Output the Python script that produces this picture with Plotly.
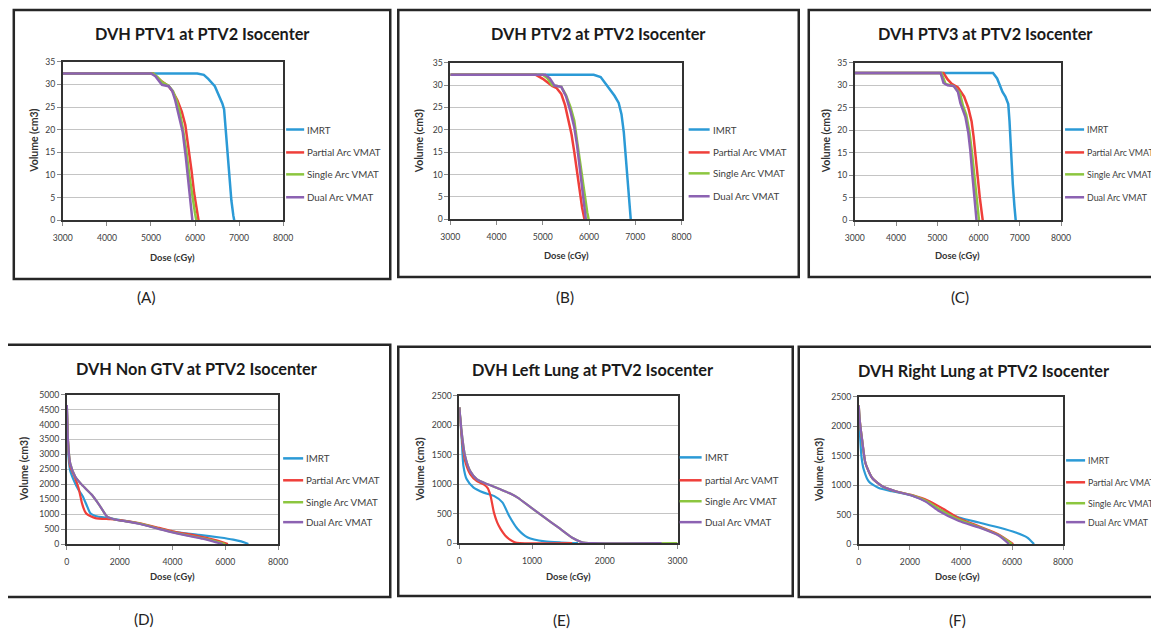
import plotly.graph_objects as go

W, H = 1190, 633
# empirical placement correction (observed = off + scale * figure coordinate)
SX, OXP = 0.982, 17.2
SY, OYP = 0.986, 13.1
FS = 1.0 / SX
FONT = "Lato"

SERIES = ["IMRT", "Partial Arc VMAT", "Single Arc VMAT", "Dual Arc VMAT"]
SERIES_E = ["IMRT", "partial Arc VAMT", "Single Arc VMAT", "Dual Arc VMAT"]
COLORS = ["#2b9ad6", "#ef3f3a", "#8cc63f", "#8c62b2"]

TITLES = ["DVH PTV1 at PTV2 Isocenter", "DVH PTV2 at PTV2 Isocenter", "DVH PTV3 at PTV2 Isocenter",
          "DVH Non GTV at PTV2 Isocenter", "DVH Left Lung at PTV2 Isocenter", "DVH Right Lung at PTV2 Isocenter"]
LABELS = ["(A)", "(B)", "(C)", "(D)", "(E)", "(F)"]
X_TITLE = "Dose (cGy)"
Y_TITLE = "Volume (cm3)"

# ---------------- Panel A: PTV1 ----------------
a_imrt_x = [3000, 6050, 6200, 6300, 6450, 6550, 6620, 6660, 6690, 6730, 6780, 6825, 6870, 6890]
a_imrt_y = [32.4, 32.4, 32.1, 31.2, 29.6, 27.5, 25.8, 24.5, 20.5, 15.5, 9.5, 4.4, 1.0, 0]
a_part_x = [3000, 5050, 5150, 5250, 5400, 5500, 5600, 5700, 5780, 5850, 5920, 5980, 6040, 6080]
a_part_y = [32.4, 32.4, 31.5, 30.6, 29.6, 28.3, 26.5, 24.0, 21.0, 16.5, 11.0, 6.0, 2.0, 0]
a_sing_x = [3000, 5050, 5150, 5250, 5400, 5500, 5580, 5650, 5720, 5800, 5870, 5940, 6000, 6030]
a_sing_y = [32.4, 32.4, 31.6, 30.5, 29.7, 28.5, 26.5, 24.0, 20.5, 15.5, 10.0, 5.0, 1.5, 0]
a_dual_x = [3000, 5000, 5100, 5200, 5250, 5400, 5480, 5550, 5600, 5650, 5720, 5790, 5850, 5900, 5940]
a_dual_y = [32.4, 32.4, 31.8, 30.5, 29.9, 29.6, 28.6, 26.5, 24.5, 23.0, 19.5, 14.0, 8.5, 3.5, 0]

# ---------------- Panel B: PTV2 ----------------
b_imrt_x = [3000, 6100, 6250, 6350, 6450, 6550, 6640, 6700, 6750, 6790, 6820, 6850, 6880, 6900]
b_imrt_y = [32.3, 32.3, 31.8, 30.4, 29.0, 27.6, 26.0, 23.5, 19.5, 14.0, 9.0, 5.0, 1.5, 0]
b_part_x = [3000, 4850, 5000, 5100, 5200, 5300, 5400, 5480, 5550, 5620, 5680, 5740, 5800, 5850, 5900]
b_part_y = [32.3, 32.3, 31.4, 30.6, 29.8, 29.3, 28.0, 25.5, 22.0, 19.0, 15.0, 10.5, 6.0, 2.5, 0]
b_sing_x = [3000, 5000, 5100, 5200, 5400, 5500, 5600, 5680, 5740, 5800, 5860, 5920, 5960, 5990]
b_sing_y = [32.3, 32.3, 31.5, 30.0, 29.6, 27.8, 25.0, 22.0, 17.5, 13.0, 8.5, 4.0, 1.5, 0]
b_dual_x = [3000, 5050, 5150, 5250, 5400, 5500, 5600, 5680, 5740, 5790, 5840, 5880, 5910, 5930]
b_dual_y = [32.3, 32.3, 31.5, 29.9, 29.6, 27.5, 24.0, 20.5, 16.5, 12.0, 7.5, 3.5, 1.0, 0]

# ---------------- Panel C: PTV3 ----------------
c_imrt_x = [3000, 6350, 6450, 6530, 6580, 6650, 6720, 6750, 6770, 6800, 6830, 6870, 6900]
c_imrt_y = [32.7, 32.7, 31.5, 29.5, 28.5, 27.5, 25.8, 22.0, 18.0, 13.0, 8.0, 3.0, 0]
c_part_x = [3000, 5150, 5250, 5350, 5500, 5650, 5750, 5830, 5880, 5930, 5980, 6030, 6070, 6100]
c_part_y = [32.7, 32.7, 31.3, 30.3, 29.5, 27.5, 25.0, 22.0, 18.5, 14.5, 9.5, 5.0, 1.5, 0]
c_sing_x = [3000, 5100, 5200, 5400, 5550, 5620, 5700, 5780, 5840, 5900, 5950, 5990, 6010]
c_sing_y = [32.7, 32.7, 30.3, 29.8, 28.2, 25.5, 23.5, 19.5, 15.0, 9.5, 5.0, 1.5, 0]
c_dual_x = [3000, 5080, 5150, 5250, 5400, 5500, 5560, 5620, 5680, 5750, 5800, 5850, 5900, 5950]
c_dual_y = [32.7, 32.7, 30.5, 30.0, 29.8, 28.5, 26.0, 24.5, 23.0, 19.5, 15.5, 10.0, 4.5, 0]

# ---------------- Panel D: Non GTV ----------------
d_imrt_x = [0, 30, 63, 120, 254, 444, 600, 750, 889, 1079, 1650, 2730, 4000, 5000, 5800, 6300, 6600, 6800, 6870]
d_imrt_y = [4650, 3800, 2930, 2480, 2150, 1810, 1600, 1300, 1030, 940, 860, 690, 420, 310, 220, 150, 90, 30, 0]
d_part_x = [0, 40, 127, 317, 444, 571, 680, 762, 900, 1079, 1650, 2000, 2730, 3500, 4000, 5000, 5700, 6100]
d_part_y = [4650, 3500, 2600, 2200, 1870, 1370, 1100, 1000, 930, 870, 830, 800, 700, 540, 430, 260, 120, 0]
d_sing_x = [0, 40, 127, 317, 571, 952, 1250, 1524, 1778, 2000, 2730, 3500, 4000, 4700, 5150, 5600, 6000]
d_sing_y = [4650, 3500, 2700, 2260, 1980, 1640, 1280, 920, 830, 790, 690, 510, 400, 270, 190, 100, 0]
d_dual_x = [0, 40, 127, 317, 571, 952, 1250, 1524, 1778, 2000, 2730, 3500, 4000, 4700, 5143, 5500, 5900]
d_dual_y = [4650, 3500, 2700, 2260, 1980, 1640, 1280, 920, 830, 790, 680, 500, 390, 260, 180, 100, 0]

# ---------------- Panel E: Left Lung ----------------
e_imrt_x = [0, 33, 56, 102, 196, 335, 475, 592, 685, 801, 941, 1174, 1400, 1630]
e_imrt_y = [2300, 1760, 1310, 1080, 940, 855, 800, 690, 460, 240, 95, 28, 10, 0]
e_part_x = [0, 33, 79, 149, 242, 340, 390, 429, 475, 520, 568, 630, 685, 760, 830, 1550]
e_part_y = [2300, 1810, 1390, 1170, 1050, 990, 930, 800, 520, 350, 236, 130, 68, 15, 0, 0]
e_sing_x = [0, 33, 79, 149, 242, 382, 568, 700, 801, 987, 1174, 1360, 1546, 1686, 1826, 3000]
e_sing_y = [2300, 1870, 1475, 1220, 1080, 1000, 910, 840, 770, 600, 430, 265, 95, 15, 0, 0]
e_dual_x = [0, 33, 79, 149, 242, 382, 568, 700, 801, 987, 1174, 1360, 1546, 1686, 1826, 2780]
e_dual_y = [2300, 1870, 1475, 1220, 1080, 1000, 910, 840, 770, 600, 430, 265, 95, 15, 0, 0]

# ---------------- Panel F: Right Lung ----------------
f_imrt_x = [0, 26, 105, 196, 392, 784, 1307, 2092, 2614, 3137, 3922, 4706, 5490, 6144, 6601, 6863]
f_imrt_y = [2350, 2040, 1480, 1260, 1060, 950, 895, 820, 730, 590, 450, 365, 280, 195, 110, 0]
f_part_x = [0, 26, 131, 261, 523, 915, 1438, 2092, 2700, 3300, 3922, 4706, 5490, 6050]
f_part_y = [2350, 2150, 1760, 1370, 1120, 980, 895, 830, 740, 600, 440, 300, 160, 0]
f_sing_x = [0, 26, 131, 261, 523, 915, 1438, 2092, 2650, 3200, 3922, 4706, 5490, 6000]
f_sing_y = [2350, 2150, 1760, 1370, 1120, 980, 895, 825, 730, 580, 415, 290, 150, 0]
f_dual_x = [0, 26, 131, 261, 523, 915, 1438, 2092, 2614, 3137, 3922, 4706, 5490, 5882]
f_dual_y = [2350, 2150, 1760, 1370, 1120, 980, 895, 820, 720, 560, 390, 280, 140, 0]

PANEL_DATA = [
    [(a_imrt_x, a_imrt_y), (a_part_x, a_part_y), (a_sing_x, a_sing_y), (a_dual_x, a_dual_y)],
    [(b_imrt_x, b_imrt_y), (b_part_x, b_part_y), (b_sing_x, b_sing_y), (b_dual_x, b_dual_y)],
    [(c_imrt_x, c_imrt_y), (c_part_x, c_part_y), (c_sing_x, c_sing_y), (c_dual_x, c_dual_y)],
    [(d_imrt_x, d_imrt_y), (d_part_x, d_part_y), (d_sing_x, d_sing_y), (d_dual_x, d_dual_y)],
    [(e_imrt_x, e_imrt_y), (e_part_x, e_part_y), (e_sing_x, e_sing_y), (e_dual_x, e_dual_y)],
    [(f_imrt_x, f_imrt_y), (f_part_x, f_part_y), (f_sing_x, f_sing_y), (f_dual_x, f_dual_y)],
]
X_RANGES = [[3000, 8000], [3000, 8000], [3000, 8000], [0, 8000], [0, 3000], [0, 8000]]
X_DTICK = [1000, 1000, 1000, 2000, 1000, 2000]
Y_RANGES = [[0, 35], [0, 35], [0, 35], [0, 5000], [0, 2500], [0, 2500]]
Y_DTICK = [5, 5, 5, 500, 500, 500]

# ---------------- layout geometry (target picture pixels) ----------------
BOXES = [(13, 9, 389, 279), (397, 9, 797, 277), (807, 9, 1185, 277),
         (4, 345, 389, 598), (397, 347, 791, 597), (797, 347, 1185, 598)]
PLOTS = [(62, 61, 282, 220), (449, 62, 680, 219), (853, 62, 1059, 220),
         (66, 395, 277, 545), (458, 396, 676, 544), (857, 397, 1061, 545)]
TITLE_POS = [(201, 33), (597, 33), (984, 33), (196, 369), (592, 370), (982, 371)]
XT_POS = [(172, 257), (565, 255), (956, 255), (172, 578), (567, 578), (956, 578)]
YT_X = [33, 418, 825, 24, 419, 818]
LEG = [(285, 303, [129, 152, 174, 197]), (687, 708, [129, 152, 173, 196]),
       (1063, 1082, [129, 152, 174, 197]), (282, 302, [459, 481, 503, 523]),
       (678, 700, [458, 481, 502, 523]), (1064, 1083, [461, 483, 504, 523])]
LEG_FONT = [9.6, 9.6, 8.7, 9.6, 9.6, 8.7]
LAB_POS = [(146, 297), (564, 297), (958, 297), (143, 620), (560, 621), (956, 621)]


def px(x):
    return ((x - OXP) / SX) / W


def py(y):
    return 1 - ((y - OYP) / SY) / H


fig = go.Figure()
layout = dict(width=W, height=H, margin=dict(l=0, r=0, t=0, b=0), autosize=False,
              paper_bgcolor="white", plot_bgcolor="white", showlegend=False,
              font=dict(family=FONT, color="#333"))
shapes, annotations = [], []

for i in range(6):
    n = "" if i == 0 else str(i + 1)
    l, t, r, b = PLOTS[i]
    lw = 2.5 if i < 3 else 2.2
    names = SERIES_E if i == 4 else SERIES
    for k, (xs, ys) in enumerate(PANEL_DATA[i]):
        fig.add_trace(go.Scatter(x=xs, y=ys, mode="lines", name=names[k],
                                 line=dict(color=COLORS[k], width=lw,
                                           shape="linear" if i < 3 else "spline", smoothing=0.6),
                                 xaxis="x" + n, yaxis="y" + n, hoverinfo="skip"))
    axcommon = dict(showline=True, mirror=True, linecolor="#333333", linewidth=1.8,
                    ticks="outside", ticklen=4, tickcolor="#8a8a8a", zeroline=False,
                    tickfont=dict(family=FONT, size=8.5 * FS, color="#404040"), fixedrange=True)
    layout["xaxis" + n] = dict(axcommon, domain=[px(l), px(r)], range=X_RANGES[i],
                               dtick=X_DTICK[i], tick0=0, showgrid=False,
                               anchor="y" + n, ticklabelstandoff=5)
    layout["yaxis" + n] = dict(axcommon, domain=[py(b), py(t)], range=Y_RANGES[i],
                               dtick=Y_DTICK[i], tick0=0, showgrid=True,
                               gridcolor="#c4c4c4", gridwidth=1.3, anchor="x" + n)
    # frame box
    bl, bt, br, bb = BOXES[i]
    shapes.append(dict(type="rect", xref="paper", yref="paper", x0=px(bl), x1=px(br),
                       y0=py(bb), y1=py(bt), line=dict(color="#262626", width=2.5)))
    # title
    annotations.append(dict(text="<b>" + TITLES[i] + "</b>", x=px(TITLE_POS[i][0]), y=py(TITLE_POS[i][1]),
                            xref="paper", yref="paper", showarrow=False, xanchor="center", yanchor="middle",
                            font=dict(family=FONT, size=16 * FS, color="#1a1a1a")))
    # axis titles
    annotations.append(dict(text="<b>" + X_TITLE + "</b>", x=px(XT_POS[i][0]), y=py(XT_POS[i][1]),
                            xref="paper", yref="paper", showarrow=False, xanchor="center", yanchor="middle",
                            font=dict(family=FONT, size=9.2 * FS, color="#333")))
    annotations.append(dict(text="<b>" + Y_TITLE + "</b>", x=px(YT_X[i]), y=py((t + b) / 2),
                            xref="paper", yref="paper", showarrow=False, xanchor="center", yanchor="middle",
                            textangle=-90, font=dict(family=FONT, size=10.3 * FS, color="#333")))
    # legend
    x0, x1, ys_ = LEG[i]
    for k in range(4):
        shapes.append(dict(type="line", xref="paper", yref="paper", x0=px(x0), x1=px(x1),
                           y0=py(ys_[k]), y1=py(ys_[k]), line=dict(color=COLORS[k], width=2.5)))
        annotations.append(dict(text=names[k], x=px(x1 + 1), y=py(ys_[k]), xref="paper", yref="paper",
                                showarrow=False, xanchor="left", yanchor="middle",
                                font=dict(family=FONT, size=LEG_FONT[i] * FS, color="#404040")))
    # panel label
    annotations.append(dict(text=LABELS[i], x=px(LAB_POS[i][0]), y=py(LAB_POS[i][1]),
                            xref="paper", yref="paper", showarrow=False, xanchor="center", yanchor="middle",
                            font=dict(family=FONT, size=15 * FS, color="#222")))

layout["shapes"] = shapes
layout["annotations"] = annotations
fig.update_layout(**layout)
fig.write_html("out.html")
